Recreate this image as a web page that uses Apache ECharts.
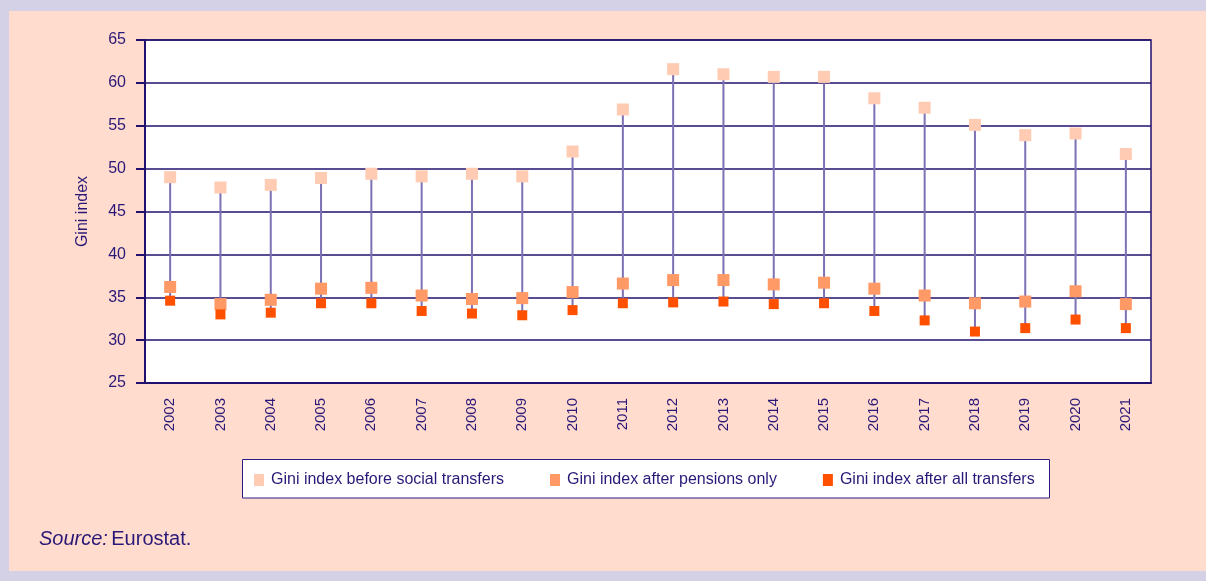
<!DOCTYPE html>
<html>
<head>
<meta charset="utf-8">
<script src="https://cdn.jsdelivr.net/npm/echarts@6/dist/echarts.min.js"></script>
<style>
  html, body { margin: 0; padding: 0; background: #d4d0e5; }
  #chart { width: 1206px; height: 581px; }
</style>
</head>
<body>
<div id="chart"></div>
<script>
// Gini index, 2002-2021
const years = ['2002','2003','2004','2005','2006','2007','2008','2009','2010','2011',
               '2012','2013','2014','2015','2016','2017','2018','2019','2020','2021'];
const beforeTransfers = [49.0, 47.8, 48.1, 48.9, 49.4, 49.1, 49.4, 49.1, 52.0, 56.9,
                         61.6, 61.0, 60.7, 60.7, 58.2, 57.1, 55.1, 53.9, 54.1, 51.7];
const afterPensions   = [36.2, 34.2, 34.7, 36.0, 36.1, 35.2, 34.8, 34.9, 35.6, 36.6,
                         37.0, 37.0, 36.5, 36.7, 36.0, 35.2, 34.3, 34.5, 35.7, 34.2];
const afterAll        = [34.6, 33.0, 33.2, 34.3, 34.3, 33.4, 33.1, 32.9, 33.5, 34.3,
                         34.4, 34.5, 34.2, 34.3, 33.4, 32.3, 31.0, 31.4, 32.4, 31.4];
const seriesNames = ['Gini index before social transfers',
                     'Gini index after pensions only',
                     'Gini index after all transfers'];

const navy = '#22106e';
const textNavy = '#2a1878';
const font = 'Liberation Sans, Arial';

// high-low span per year, drawn as a vertical stem
const spans = years.map((y, i) => {
  const vals = [beforeTransfers[i], afterPensions[i], afterAll[i]];
  return [i, Math.max(...vals), Math.min(...vals)];
});

const chart = echarts.init(document.getElementById('chart'), null, { renderer: 'canvas' });

chart.setOption({
  backgroundColor: '#d4d0e5',
  animation: false,
  graphic: [
    { type: 'rect', z: -10, shape: { x: 9, y: 11, width: 1197, height: 560 },
      style: { fill: '#ffdccd' } },
    { type: 'rect', z: 0, shape: { x: 242.5, y: 459.5, width: 807, height: 38.5 },
      style: { fill: '#ffffff', stroke: '#2d1b84', lineWidth: 1 } },
    { type: 'text', left: 39, top: 529, z: 5,
      style: { rich: { i: { fontStyle: 'italic', fontSize: 20, fontFamily: font, fill: textNavy },
                       n: { fontSize: 20, fontFamily: font, fill: textNavy } },
               text: '{i|Source:} {n|Eurostat.}' } }
  ],
  grid: {
    left: 145, right: 55, top: 40, bottom: 198,
    show: true, backgroundColor: '#ffffff', borderColor: navy, borderWidth: 1.5
  },
  legend: {
    left: 254, top: 472, z: 5, padding: 0,
    itemWidth: 10, itemHeight: 12, itemGap: 46, icon: 'rect',
    data: seriesNames,
    textStyle: { fontSize: 16, fontFamily: font, color: textNavy, padding: [0, 0, 0, 2] }
  },
  xAxis: {
    type: 'category', data: years, boundaryGap: true,
    axisLine: { lineStyle: { color: navy, width: 2 } },
    axisTick: { show: false },
    axisLabel: { rotate: 90, margin: 15, fontSize: 15, fontFamily: font, color: textNavy }
  },
  yAxis: {
    type: 'value', min: 25, max: 65, interval: 5,
    name: 'Gini index', nameLocation: 'middle', nameGap: 54, nameRotate: 90,
    nameTextStyle: { fontSize: 16, fontFamily: font, color: textNavy },
    axisLine: { show: true, lineStyle: { color: navy, width: 2 } },
    axisTick: { show: true, length: 9, lineStyle: { color: navy, width: 2 } },
    axisLabel: { margin: 19, fontSize: 16, fontFamily: font, color: textNavy },
    splitLine: { show: true, lineStyle: { color: navy, width: 1.6 } }
  },
  series: [
    {
      type: 'custom', z: 1, silent: true,
      data: spans, encode: { x: 0, y: [1, 2] },
      renderItem: (params, api) => {
        const top = api.coord([api.value(0), api.value(1)]);
        const bot = api.coord([api.value(0), api.value(2)]);
        return { type: 'line',
                 shape: { x1: top[0], y1: top[1], x2: bot[0], y2: bot[1] },
                 style: { stroke: '#7d70b4', lineWidth: 2 } };
      }
    },
    { name: seriesNames[0], type: 'scatter', z: 3, symbol: 'rect', symbolSize: 12,
      data: beforeTransfers, itemStyle: { color: '#ffcbb2', opacity: 1 } },
    { name: seriesNames[1], type: 'scatter', z: 3, symbol: 'rect', symbolSize: 12,
      data: afterPensions, itemStyle: { color: '#ff9966', opacity: 1 } },
    { name: seriesNames[2], type: 'scatter', z: 4, symbol: 'rect', symbolSize: 10,
      data: afterAll, itemStyle: { color: '#ff5000', opacity: 1 } }
  ]
});
</script>
</body>
</html>
